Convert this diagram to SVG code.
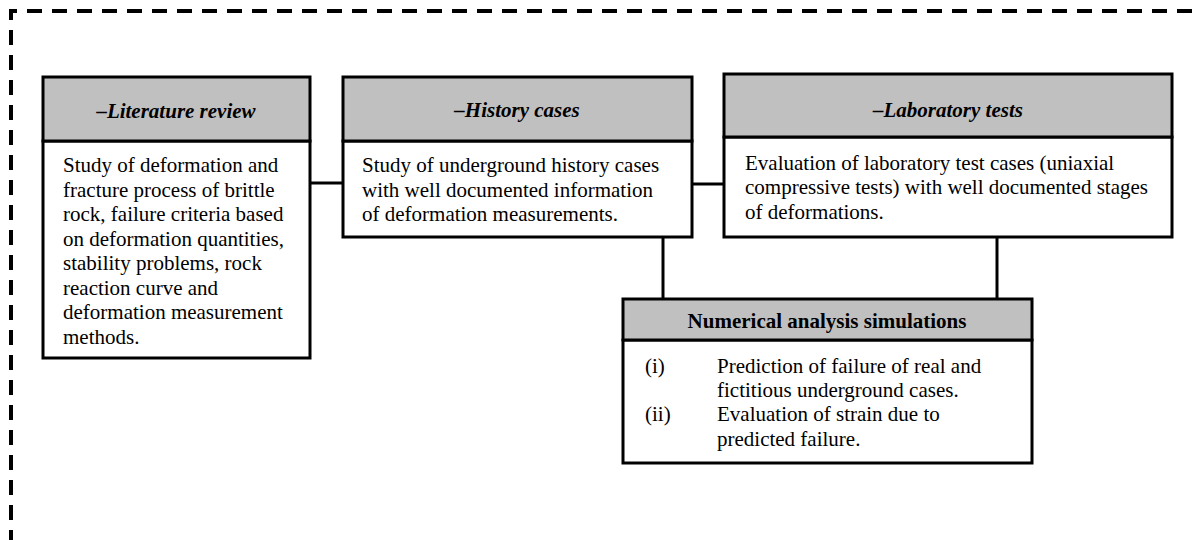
<svg xmlns="http://www.w3.org/2000/svg" width="1200" height="540" viewBox="0 0 1200 540">
<style>
.hdr{fill:#c0c0c0;stroke:#000;stroke-width:3}
.body{fill:#fff;stroke:#000;stroke-width:3}
.ht{font-family:"Liberation Serif",serif;font-size:21px;font-weight:bold;font-style:italic;text-anchor:middle;fill:#000}
.hb{font-family:"Liberation Serif",serif;font-size:21px;font-weight:bold;text-anchor:middle;fill:#000}
.t{font-family:"Liberation Serif",serif;font-size:21px;fill:#000}
.c{stroke:#000;stroke-width:3;fill:none}
</style>
<path d="M11,545 L11,11 L1205,11" fill="none" stroke="#000" stroke-width="4" stroke-dasharray="15,10"/>
<g id="connectors">
<line class="c" x1="310" y1="183" x2="343" y2="183"/>
<line class="c" x1="692" y1="184" x2="724" y2="184"/>
<line class="c" x1="663" y1="237" x2="663" y2="299"/>
<line class="c" x1="997" y1="237" x2="997" y2="299"/>
</g>
<g id="literature">
<rect class="body" x="43" y="141" width="267" height="217"/>
<rect class="hdr" x="43" y="77" width="267" height="64"/>
<text class="ht" x="176" y="118">–Literature review</text>
<text class="t" x="63" y="172">Study of deformation and</text>
<text class="t" x="63" y="197">fracture process of brittle</text>
<text class="t" x="63" y="221">rock, failure criteria based</text>
<text class="t" x="63" y="246">on deformation quantities,</text>
<text class="t" x="63" y="270">stability problems, rock</text>
<text class="t" x="63" y="295">reaction curve and</text>
<text class="t" x="63" y="319">deformation measurement</text>
<text class="t" x="63" y="344">methods.</text>
</g>
<g id="history">
<rect class="body" x="343" y="141" width="349" height="96"/>
<rect class="hdr" x="343" y="77" width="349" height="64"/>
<text class="ht" x="517" y="117">–History cases</text>
<text class="t" x="362" y="172">Study of underground history cases</text>
<text class="t" x="362" y="197">with well documented information</text>
<text class="t" x="362" y="221">of deformation measurements.</text>
</g>
<g id="laboratory">
<rect class="body" x="724" y="137" width="448" height="100"/>
<rect class="hdr" x="724" y="74" width="448" height="63"/>
<text class="ht" x="948" y="117">–Laboratory tests</text>
<text class="t" x="745" y="170">Evaluation of laboratory test cases (uniaxial</text>
<text class="t" x="745" y="194">compressive tests) with well documented stages</text>
<text class="t" x="745" y="219">of deformations.</text>
</g>
<g id="numerical">
<rect class="body" x="623" y="340" width="409" height="123"/>
<rect class="hdr" x="623" y="299" width="409" height="41"/>
<text class="hb" x="827" y="328">Numerical analysis simulations</text>
<text class="t" x="645" y="373">(i)</text>
<text class="t" x="717" y="373">Prediction of failure of real and</text>
<text class="t" x="717" y="397">fictitious underground cases.</text>
<text class="t" x="645" y="421">(ii)</text>
<text class="t" x="717" y="421">Evaluation of strain due to</text>
<text class="t" x="717" y="446">predicted failure.</text>
</g>
</svg>
